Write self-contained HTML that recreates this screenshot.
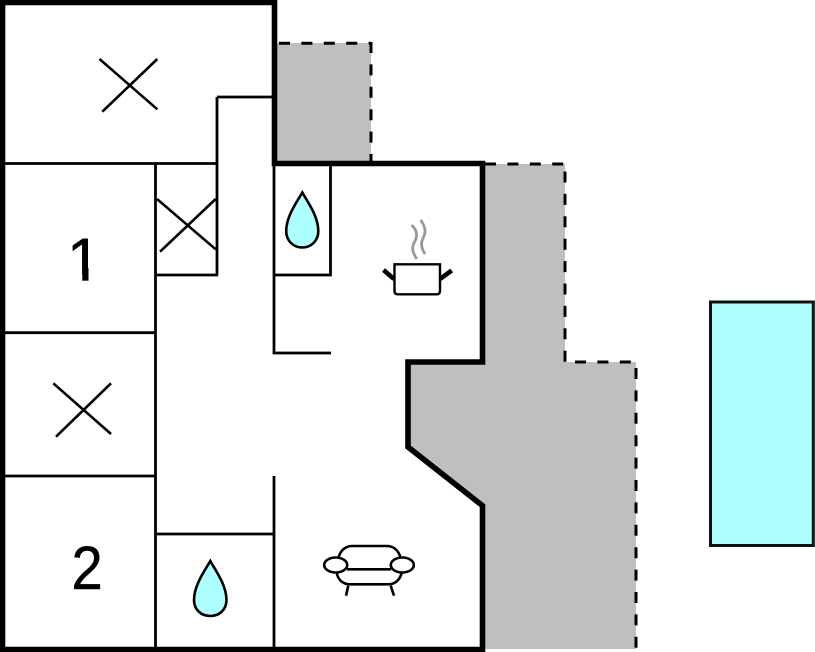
<!DOCTYPE html>
<html>
<head>
<meta charset="utf-8">
<style>
html,body{margin:0;padding:0;background:#fff;width:815px;height:652px;overflow:hidden}
svg{display:block}
text{font-family:"Liberation Sans",Arial,sans-serif;font-size:61px;fill:#000;stroke:#000;stroke-width:.5}
</style>
</head>
<body>
<svg width="815" height="652" viewBox="0 0 815 652" xmlns="http://www.w3.org/2000/svg">
<!-- grey terraces -->
<rect x="277" y="43" width="94" height="118" fill="#bfbfbf"/>
<polygon points="482,164 565,164 565,362 636,362 636,649 482,649 482,505 408,447 408,362 482,362" fill="#bfbfbf"/>
<!-- dashed edges -->
<g fill="none" stroke="#000" stroke-width="3" stroke-dasharray="11 11.4">
<path d="M279,43.3H371"/>
<path d="M371,42V161"/>
<path d="M485,164H565"/>
<path d="M565,171.5V362"/>
<path d="M575,362H636"/>
<path d="M636,368V649"/>
</g>
<!-- pool -->
<rect x="710.5" y="302" width="102.8" height="243.5" fill="#aeffff" stroke="#111" stroke-width="3"/>
<!-- thin walls -->
<g fill="none" stroke="#000" stroke-width="2.8">
<path d="M0,163.5H217"/>
<path d="M155.5,163.5V650"/>
<path d="M217,97V275"/>
<path d="M217,97H273"/>
<path d="M155.5,275H218"/>
<path d="M274,163V353H331"/>
<path d="M274,275H330.5V163"/>
<path d="M0,332.7H155.5"/>
<path d="M0,476H155.5"/>
<path d="M155.5,534H274"/>
<path d="M274,476V650"/>
</g>
<!-- thick walls -->
<path d="M2.5,649.5V2.5H274.5V163.5H482.5V362H408V447L482.5,505.7V649.5H2.5Z" fill="none" stroke="#000" stroke-width="5.6"/>
<!-- crosses -->
<g fill="none" stroke="#000" stroke-width="2.6">
<path d="M99.5,59L157.3,109.3M157.3,59L102.3,111.7"/>
<path d="M53.3,383.3L111,434M111,383.3L56,436.7"/>
<path d="M157,199L215.7,249.3M215.7,199L160,251.7"/>
</g>
<!-- labels -->
<text x="67" y="281">1</text>
<rect x="66" y="274.5" width="38" height="10" fill="#fff"/>
<rect x="82.3" y="268" width="6.2" height="12.7" fill="#000"/>
<text transform="translate(71.5,589) scale(.92,1)">2</text>
<!-- drops -->
<path d="M302.3,192.5C307,201 318.3,216 318.3,231C318.3,241 311,247.5 302.3,247.5C293.5,247.5 286.2,241 286.2,231C286.2,216 297.5,201 302.3,192.5Z" fill="#aeffff" stroke="#000" stroke-width="2.6"/>
<path d="M210.3,561C215,569.5 226.5,585 226.5,600C226.5,610 219,616 210.3,616C201.5,616 194,610 194,600C194,585 205.5,569.5 210.3,561Z" fill="#aeffff" stroke="#000" stroke-width="2.6"/>
<!-- pot -->
<path d="M416.7,259C411,250 412,246 415.5,240C418,234 416,229 411.5,225" fill="none" stroke="#999" stroke-width="2.8"/>
<path d="M425,254C420,246 421,242 424,236C426.5,230 424,225 420.7,220" fill="none" stroke="#999" stroke-width="2.8"/>
<path d="M394.5,264.3H440V291Q440,294.3 436.5,294.3H398Q394.5,294.3 394.5,291Z" fill="#fff" stroke="#000" stroke-width="2.4"/>
<path d="M383.5,270L394,279M451.7,270.5L440,279" fill="none" stroke="#000" stroke-width="4.6"/>
<!-- sofa -->
<g fill="none" stroke="#000" stroke-width="2.6">
<path d="M338.3,558.3C340,551 345,546 352,546H387C394,546 399,551 400.7,558.3"/>
<path d="M347,569.3H391"/>
<path d="M336.7,572.7C338,580 343,584.3 350,584.3H388C395,584.3 400,580 401.7,572.7"/>
<path d="M348.3,585.7L346,595.7M390.7,585.7L394,595.7"/>
<ellipse cx="335.7" cy="565" rx="11.5" ry="7.5"/>
<ellipse cx="402.3" cy="565" rx="11.5" ry="7.5"/>
</g>
</svg>
</body>
</html>
